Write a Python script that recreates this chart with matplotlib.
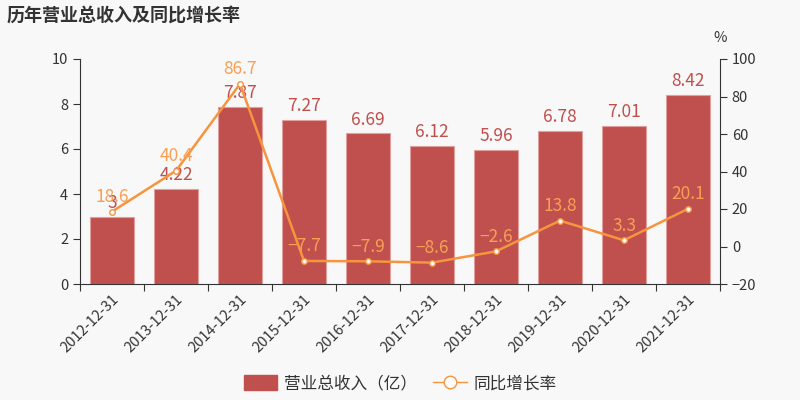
import matplotlib
matplotlib.use("Agg")
import matplotlib.pyplot as plt
from matplotlib.lines import Line2D
from matplotlib.patches import Patch

plt.rcParams['font.family'] = ['Noto Sans CJK SC', 'DejaVu Sans']
plt.rcParams['axes.unicode_minus'] = True

categories = ["2012-12-31", "2013-12-31", "2014-12-31", "2015-12-31", "2016-12-31",
              "2017-12-31", "2018-12-31", "2019-12-31", "2020-12-31", "2021-12-31"]
revenue = [3, 4.22, 7.87, 7.27, 6.69, 6.12, 5.96, 6.78, 7.01, 8.42]
revenue_labels = ["3", "4.22", "7.87", "7.27", "6.69", "6.12", "5.96", "6.78", "7.01", "8.42"]
growth = [18.6, 40.4, 86.7, -7.7, -7.9, -8.6, -2.6, 13.8, 3.3, 20.1]

bar_color = "#c0504d"
line_color = "#f7943e"
label_line_color = "#f6a055"
bg = "#f8f8f8"
txt = "#333333"

fig = plt.figure(figsize=(8, 4), dpi=100, facecolor=bg)
ax = fig.add_axes([0.1, 0.29, 0.8, 0.5625])
ax.set_facecolor(bg)
x = list(range(len(categories)))
ax.bar(x, revenue, width=0.7, color=bar_color, edgecolor="#e0a0a0", linewidth=0.8, zorder=2)
ax.set_ylim(0, 10)
ax.set_xlim(-0.5, len(categories) - 0.5)
ax.set_yticks([0, 2, 4, 6, 8, 10])
ax.set_xticks([i - 0.5 for i in range(len(categories) + 1)], minor=False)
ax.set_xticklabels([])
ax.set_xticks(x, minor=True)
ax.set_xticklabels(categories, minor=True, rotation=45, ha="right", rotation_mode="anchor",
                   fontsize=10.5, color=txt)
ax.tick_params(axis="x", which="minor", length=0, pad=6)
ax.tick_params(axis="x", which="major", length=5, color=txt)
ax.tick_params(axis="y", length=5, color=txt, labelsize=10.5, labelcolor=txt)
for s in ["top", "right"]:
    ax.spines[s].set_visible(False)
ax.spines["left"].set_color(txt)
ax.spines["bottom"].set_color(txt)

for xi, v, lab in zip(x, revenue, revenue_labels):
    ax.text(xi, v + 0.22, lab, ha="center", va="bottom", color=bar_color, fontsize=12.5,
            zorder=5)

ax2 = ax.twinx()
ax2.set_ylim(-20, 100)
ax2.set_yticks([-20, 0, 20, 40, 60, 80, 100])
ax2.plot(x, growth, color=line_color, linewidth=1.8, marker="o", markersize=4,
         markerfacecolor="white", markeredgecolor=line_color, markeredgewidth=1, zorder=4)
for s in ["top", "left", "bottom"]:
    ax2.spines[s].set_visible(False)
ax2.spines["right"].set_color(txt)
ax2.tick_params(axis="y", length=5, color=txt, labelsize=10.5, labelcolor=txt)
for xi, v in zip(x, growth):
    ax2.text(xi, v + 3, f"{v:g}".replace("-", "\u2212"), ha="center", va="bottom",
             color=label_line_color, fontsize=12.5, zorder=6)
ax2.text(1.0, 1.06, "%", transform=ax2.transAxes, ha="center", va="bottom",
         fontsize=10.5, color=txt)

fig.text(0.008, 0.962, "历年营业总收入及同比增长率", ha="left", va="center",
         fontsize=13, fontweight="bold", color=txt)

handles = [Patch(facecolor=bar_color, edgecolor=bar_color),
           Line2D([0], [0], color=line_color, marker="o", markerfacecolor="white",
                  markeredgecolor=line_color, markersize=9, linewidth=1)]
fig.legend(handles, ["营业总收入（亿）", "同比增长率"], loc="center",
           bbox_to_anchor=(0.5, 0.04), ncol=2, frameon=False, fontsize=12,
           labelcolor=txt, handlelength=2.0, handleheight=1.0, columnspacing=1.0,
           handletextpad=0.4)

fig.savefig("out.png", dpi=100, facecolor=bg)
